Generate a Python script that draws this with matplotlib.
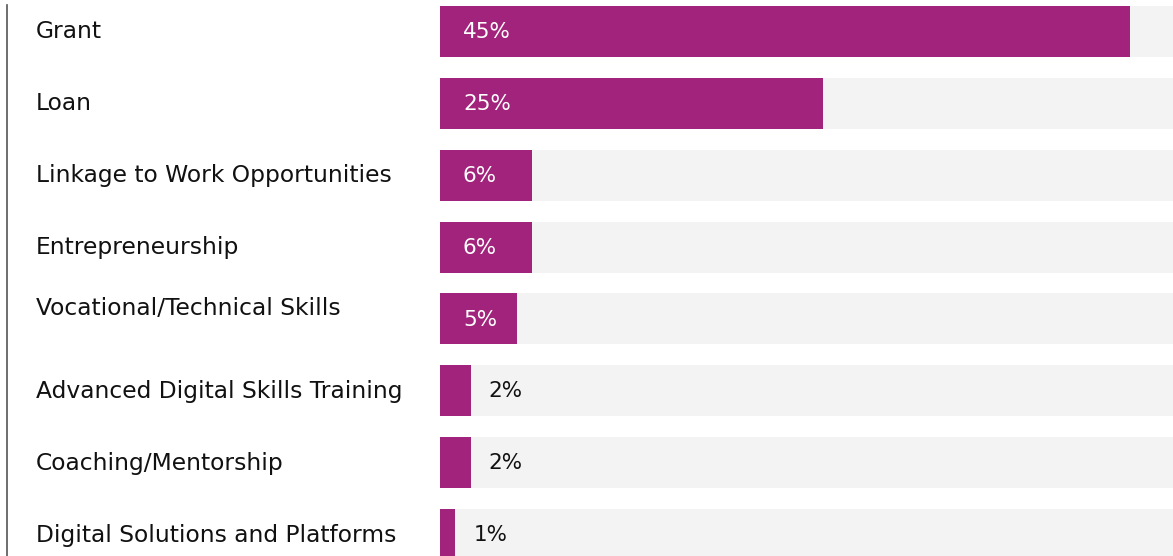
import matplotlib.pyplot as plt
from matplotlib.lines import Line2D

categories = ["Grant", "Loan", "Linkage to Work Opportunities", "Entrepreneurship",
              "Vocational/Technical Skills", "Advanced Digital Skills Training",
              "Coaching/Mentorship", "Digital Solutions and Platforms"]
shares = [45, 25, 6, 6, 5, 2, 2, 1]
value_labels = ["45%", "25%", "6%", "6%", "5%", "2%", "2%", "1%"]

purple = "#a2237b"
track = "#f3f3f3"
ink = "#111111"

plt.rcParams['font.family'] = ['DejaVu Sans']

W, H = 1173, 556
fig = plt.figure(figsize=(W / 100, H / 100), dpi=100)
left = 440 / W
ax = fig.add_axes([left, 0, 1 - left, 1])

xmax = 47.8
ax.set_xlim(0, xmax)
row = 71.86
ax.set_ylim((H - 31.5) / row, -31.5 / row)

ys = list(range(len(categories)))
ax.barh(ys, [xmax] * len(ys), height=0.71, color=track, left=0)
ax.barh(ys, shares, height=0.71, color=purple)

for i, (name, v, txt) in enumerate(zip(categories, shares, value_labels)):
    nudge = -10 if i == 4 else 0.5
    ax.annotate(name, xy=(36 / W, i), xycoords=("figure fraction", "data"),
                xytext=(0, -nudge * 0.72), textcoords="offset points",
                ha="left", va="center", fontsize=16.8, color=ink,
                annotation_clip=False)
    if v >= 5:
        ax.annotate(txt, xy=(0, i), xytext=(23 * 0.72, -0.5),
                    textcoords="offset points", ha="left", va="center",
                    fontsize=15.5, color="white")
    else:
        ax.annotate(txt, xy=(v, i), xytext=(18 * 0.72, -0.5),
                    textcoords="offset points", ha="left", va="center",
                    fontsize=15.5, color=ink)

ax.axis("off")

# thin rule on the far left
fig.add_artist(Line2D([7 / W, 7 / W], [0, 1 - 5 / H], color="#555555",
                      linewidth=1.2, transform=fig.transFigure))

fig.savefig("out.png", dpi=100)
